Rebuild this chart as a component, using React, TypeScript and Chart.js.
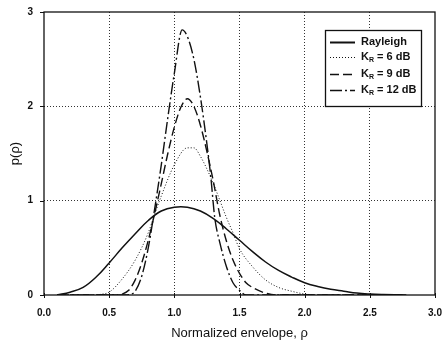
import React, { useEffect, useRef } from "react";
import { Chart, registerables } from "chart.js";
Chart.register(...registerables);

const seriesNames = ["Rayleigh", "K_R = 6 dB", "K_R = 9 dB", "K_R = 12 dB"];

const rayleighX = [0.1, 0.2, 0.3, 0.4, 0.5, 0.6, 0.7, 0.8, 0.9, 1.0, 1.1, 1.2, 1.3, 1.4, 1.5, 1.6, 1.7, 1.8, 1.9, 2.0, 2.1, 2.2, 2.3, 2.4, 2.5, 2.6, 2.78];
const rayleighY = [0, 0.03, 0.08, 0.19, 0.34, 0.5, 0.65, 0.79, 0.89, 0.93, 0.93, 0.89, 0.81, 0.7, 0.58, 0.46, 0.35, 0.26, 0.19, 0.13, 0.09, 0.06, 0.04, 0.02, 0.01, 0.005, 0];

const k6X = [0.38, 0.45, 0.5, 0.6, 0.7, 0.8, 0.85, 0.9, 1.0, 1.1, 1.15, 1.2, 1.3, 1.35, 1.4, 1.45, 1.5, 1.6, 1.7, 1.8, 1.9, 2.0, 2.1];
const k6Y = [0, 0.01, 0.03, 0.17, 0.37, 0.66, 0.86, 1.05, 1.38, 1.56, 1.56, 1.47, 1.18, 1.0, 0.82, 0.66, 0.49, 0.3, 0.16, 0.08, 0.04, 0.01, 0];

const k9X = [0.1, 0.55, 0.6, 0.65, 0.7, 0.75, 0.8, 0.85, 0.9, 0.95, 1.0, 1.05, 1.1, 1.15, 1.2, 1.25, 1.3, 1.35, 1.4, 1.45, 1.5, 1.55, 1.6, 1.7, 1.8, 2.75];
const k9Y = [0, 0, 0.01, 0.05, 0.16, 0.34, 0.58, 0.87, 1.18, 1.5, 1.78, 1.99, 2.08, 2.0, 1.8, 1.52, 1.2, 0.84, 0.57, 0.37, 0.23, 0.13, 0.08, 0.02, 0, 0];

const k12X = [0.1, 0.62, 0.67, 0.7, 0.75, 0.8, 0.85, 0.9, 0.95, 1.0, 1.06, 1.1, 1.15, 1.2, 1.25, 1.28, 1.31, 1.35, 1.4, 1.45, 1.5, 1.55, 2.75];
const k12Y = [0, 0, 0.01, 0.04, 0.2, 0.5, 0.92, 1.38, 1.88, 2.35, 2.81, 2.74, 2.5, 2.1, 1.6, 1.25, 0.82, 0.55, 0.3, 0.13, 0.05, 0, 0];

const xTicks = [0, 0.5, 1.0, 1.5, 2.0, 2.5, 3.0];
const yTicks = [0, 1, 2, 3];

const dashes: number[][] = [[], [1, 2], [9, 4], [12, 3, 2, 3]];
const widths = [1.5, 1, 1.4, 1.4];

const toPts = (xs: number[], ys: number[]) => xs.map((x, i) => ({ x, y: ys[i] }));

const FONT = "'Liberation Sans', Arial, sans-serif";

const framePlugin = {
  id: "frame",
  afterDatasetsDraw(chart: any) {
    const { ctx, chartArea: a, scales } = chart;
    ctx.save();
    ctx.setLineDash([]);
    ctx.strokeStyle = "#111";
    ctx.lineWidth = 1.3;
    ctx.strokeRect(a.left, a.top, a.right - a.left, a.bottom - a.top);
    ctx.lineWidth = 1;
    yTicks.forEach((v) => {
      const y = Math.round(scales.y.getPixelForValue(v)) + 0.5;
      ctx.beginPath();
      ctx.moveTo(a.left - 4, y);
      ctx.lineTo(a.left, y);
      ctx.stroke();
    });
    xTicks.forEach((v) => {
      const x = Math.round(scales.x.getPixelForValue(v)) + 0.5;
      ctx.beginPath();
      ctx.moveTo(x, a.bottom - 2);
      ctx.lineTo(x, a.bottom + 3);
      ctx.stroke();
    });
    // legend
    const lx = 325, ly = 30, lw = 96, lh = 76;
    ctx.fillStyle = "#fff";
    ctx.fillRect(lx, ly, lw, lh);
    ctx.strokeStyle = "#111";
    ctx.lineWidth = 1.3;
    ctx.strokeRect(lx + 0.5, ly + 0.5, lw, lh);
    const rows = [42, 57, 74, 90];
    const legendWidths = [2, 1, 1.4, 1.6];
    seriesNames.forEach((name, i) => {
      const y = rows[i];
      ctx.save();
      ctx.strokeStyle = "#111";
      ctx.lineWidth = legendWidths[i];
      ctx.setLineDash(dashes[i]);
      ctx.beginPath();
      ctx.moveTo(330, y + 0.5);
      ctx.lineTo(355, y + 0.5);
      ctx.stroke();
      ctx.restore();
      ctx.fillStyle = "#111";
      ctx.textBaseline = "middle";
      ctx.textAlign = "left";
      let x = 361;
      const parts = name.split("_");
      ctx.font = `bold 11px ${FONT}`;
      if (parts.length === 1) {
        ctx.fillText(name, x, y);
      } else {
        ctx.fillText(parts[0], x, y);
        x += ctx.measureText(parts[0]).width;
        const sub = parts[1].charAt(0);
        const rest = parts[1].slice(1);
        ctx.font = `bold 7px ${FONT}`;
        ctx.fillText(sub, x, y + 3);
        x += ctx.measureText(sub).width;
        ctx.font = `bold 11px ${FONT}`;
        ctx.fillText(rest, x, y);
      }
    });
    ctx.restore();
  },
};

export default function App() {
  const ref = useRef<HTMLCanvasElement>(null);
  useEffect(() => {
    document.body.style.margin = "0";
    const data = [
      toPts(rayleighX, rayleighY),
      toPts(k6X, k6Y),
      toPts(k9X, k9Y),
      toPts(k12X, k12Y),
    ];
    const chart = new Chart(ref.current!, {
      type: "line",
      data: {
        datasets: data.map((d, i) => ({
          label: seriesNames[i],
          data: d,
          borderColor: "#111",
          borderWidth: widths[i],
          borderDash: dashes[i],
          pointRadius: 0,
          fill: false,
          tension: 0.4,
          cubicInterpolationMode: i === 0 ? ("default" as const) : ("monotone" as const),
        })),
      },
      options: {
        animation: false,
        responsive: false,
        maintainAspectRatio: false,
        layout: { padding: { top: 12, right: 8, left: 0, bottom: 0 } },
        plugins: { legend: { display: false }, tooltip: { enabled: false } },
        scales: {
          x: {
            type: "linear",
            min: 0,
            max: 3,
            afterBuildTicks: (s: any) => {
              s.ticks = xTicks.map((v) => ({ value: v }));
            },
            afterFit: (s: any) => {
              s.height = 50;
              s.paddingLeft = 0;
              s.paddingRight = 0;
            },
            grid: {
              color: (c: any) => (c.tick && (c.tick.value === 0 || c.tick.value === 3) ? "rgba(0,0,0,0)" : "#333"),
              lineWidth: 1,
              drawTicks: false,
            },
            border: { display: false, dash: [1, 2] },
            ticks: {
              padding: 12,
              color: "#111",
              font: { family: FONT, size: 10, weight: "bold" },
              callback: (v: any) => Number(v).toFixed(1),
              maxRotation: 0,
            },
            title: {
              display: true,
              text: "Normalized envelope, ρ",
              color: "#111",
              font: { family: FONT, size: 13 },
              padding: { top: 3, bottom: 4 },
            },
          },
          y: {
            type: "linear",
            min: 0,
            max: 3,
            afterBuildTicks: (s: any) => {
              s.ticks = yTicks.map((v) => ({ value: v }));
            },
            afterFit: (s: any) => {
              s.width = 44;
              s.paddingTop = 0;
              s.paddingBottom = 0;
            },
            grid: {
              color: (c: any) => (c.tick && (c.tick.value === 0 || c.tick.value === 3) ? "rgba(0,0,0,0)" : "#333"),
              lineWidth: 1,
              drawTicks: false,
            },
            border: { display: false, dash: [1, 2] },
            ticks: {
              padding: 11,
              color: "#111",
              font: { family: FONT, size: 10, weight: "bold" },
              callback: (v: any) => String(v),
            },
            title: {
              display: true,
              text: "p(ρ)",
              color: "#111",
              font: { family: FONT, size: 13 },
              padding: { top: 8, bottom: 0 },
            },
          },
        },
      },
      plugins: [framePlugin],
    });
    return () => chart.destroy();
  }, []);
  return (
    <div style={{ position: "absolute", left: 0, top: 0, width: 443, height: 345 }}>
      <canvas ref={ref} width={443} height={345} style={{ width: 443, height: 345, display: "block" }} />
    </div>
  );
}
